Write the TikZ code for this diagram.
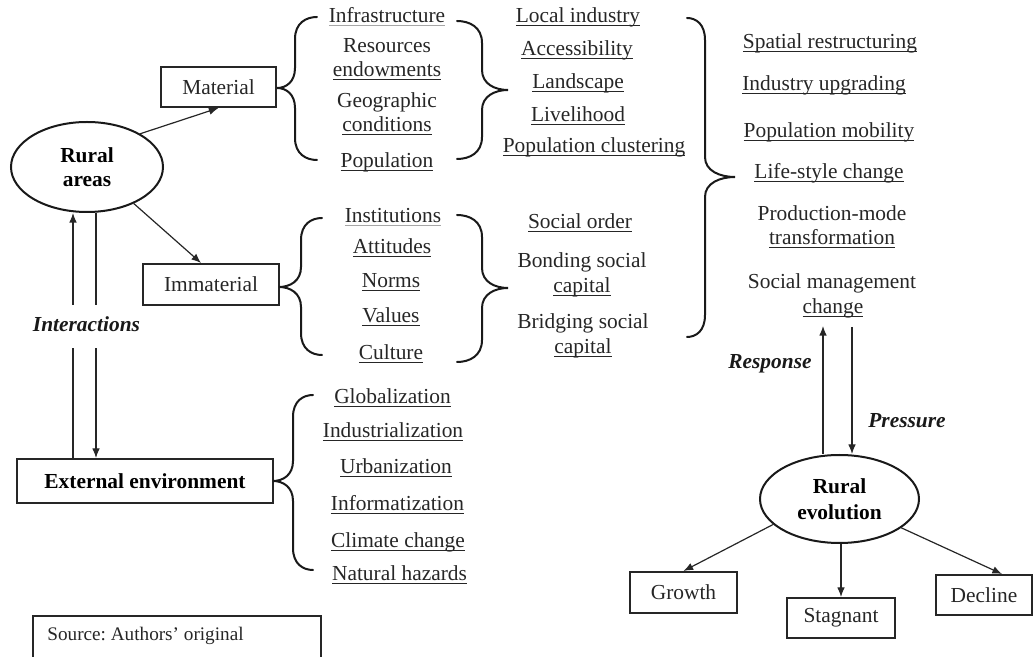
\documentclass[tikz,border=0pt]{standalone}
\usepackage{fontspec}
\setmainfont{Liberation Serif}
\usetikzlibrary{arrows.meta,calc,shapes.geometric}
\frenchspacing

% underline drawn as a zero-size rule so that it does not change the box size
\newcommand\uln[1]{\leavevmode\setbox0\hbox{#1}\rlap{\raisebox{-2.1pt}[0pt][0pt]{\rule{\wd0}{0.5pt}}}\box0}
\newcommand\ulf[1]{\leavevmode\setbox0\hbox{#1}\rlap{\raisebox{-2.1pt}[0pt][0pt]{\color{black!35}\rule{\wd0}{0.5pt}}}\box0}
\newcommand\fs{\fontsize{10.7}{12.5}\selectfont}

% curly brace: end x, stem x, tip x, top y, tip y, bottom y
\newcommand\cbrace[6]{%
  \draw[brcline] (#1,#4) .. controls ({(#1+#2)/2},#4) and (#2,{#4+6}) .. (#2,{#4+22})
     -- (#2,{#5-20}) .. controls (#2,{#5-6}) and ({(#2+#3)/2},#5) .. (#3,#5)
     .. controls ({(#2+#3)/2},#5) and (#2,{#5+6}) .. (#2,{#5+20})
     -- (#2,{#6-22}) .. controls (#2,{#6-6}) and ({(#1+#2)/2},#6) .. (#1,#6);}

\tikzset{
  lbl/.style={font=\fs, text=black!85, inner sep=0pt, text height=7.5pt, text depth=2.2pt},
  bolditalic/.style={lbl, font=\fs\bfseries\itshape, text=black!90},
  boxn/.style={draw=black!85, line width=1pt, inner sep=0pt, font=\fs, text=black!85},
  ell/.style={ellipse, draw=black!90, line width=1pt, inner sep=0pt, align=center,
              font=\fs\bfseries},
  ln/.style={line width=0.6pt, draw=black!85},
  arr/.style={ln, -{Latex[length=4.8pt,width=3.8pt]}},
  brcline/.style={line width=1pt, draw=black!90, line cap=round},
}

\begin{document}
\begin{tikzpicture}[x=0.5pt,y=-0.5pt]
\useasboundingbox (0,0) rectangle (1035,657);

% ---- main nodes ----
\node[ell, minimum width=76pt, minimum height=45pt] (rural) at (87,167) {Rural\\[-0.5pt]areas};
\node[boxn, minimum width=57.5pt, minimum height=20pt] (material) at (218.5,87) {Material};
\node[boxn, minimum width=68pt, minimum height=20.5pt] (immaterial) at (211,284.5) {Immaterial};
\node[boxn, minimum width=128pt, minimum height=22pt, font=\fs\bfseries, text=black] (ext) at (145,481) {External environment};
\node[bolditalic, minimum height=21.5pt] (inter) at (86.5,326.5) {Interactions};

% ---- material factors ----
\node[lbl] (m1) at (387,17) {\ulf{Infrastructure}};
\node[lbl] (m2a) at (387,47) {Resources};
\node[lbl] (m2b) at (387,71) {\uln{endowments}};
\node[lbl] (m3a) at (387,102) {Geographic};
\node[lbl] (m3b) at (387,126) {\uln{conditions}};
\node[lbl] (m4) at (387,162) {\uln{Population}};

% ---- material outcomes ----
\node[lbl] (o1) at (578,17) {\uln{Local industry}};
\node[lbl] (o2) at (577,50) {\uln{Accessibility}};
\node[lbl] (o3) at (578,83) {\uln{Landscape}};
\node[lbl] (o4) at (578,116) {\uln{Livelihood}};
\node[lbl] (o5) at (594,147) {\uln{Population clustering}};

% ---- immaterial factors ----
\node[lbl] (i1) at (393,217) {\ulf{Institutions}};
\node[lbl] (i2) at (392,248) {\uln{Attitudes}};
\node[lbl] (i3) at (391,282) {\uln{Norms}};
\node[lbl] (i4) at (391,317) {\uln{Values}};
\node[lbl] (i5) at (391,354) {\uln{Culture}};

% ---- immaterial outcomes ----
\node[lbl] (s1) at (580,223) {\uln{Social order}};
\node[lbl] (s2a) at (582,262) {Bonding social};
\node[lbl] (s2b) at (582,287) {\uln{capital}};
\node[lbl] (s3a) at (583,323) {Bridging social};
\node[lbl] (s3b) at (583,348) {\uln{capital}};

% ---- rural changes ----
\node[lbl] (r1) at (830,43) {\uln{Spatial restructuring}};
\node[lbl] (r2) at (824,85) {\uln{Industry upgrading}};
\node[lbl] (r3) at (829,132) {\uln{Population mobility}};
\node[lbl] (r4) at (829,173) {\uln{Life-style change}};
\node[lbl] (r5a) at (832,215) {Production-mode};
\node[lbl] (r5b) at (832,239) {\uln{transformation}};
\node[lbl] (r6a) at (832,283) {Social management};
\node[lbl] (r6b) at (833,308) {\uln{change}};

% ---- external forces ----
\node[lbl] (e1) at (392.5,398) {\uln{Globalization}};
\node[lbl] (e2) at (393,432) {\uln{Industrialization}};
\node[lbl] (e3) at (396,468) {\uln{Urbanization}};
\node[lbl] (e4) at (397.5,505) {\uln{Informatization}};
\node[lbl] (e5) at (398,542) {\uln{Climate change}};
\node[lbl] (e6) at (399.5,575) {\uln{Natural hazards}};

% ---- rural evolution ----
\node[ell, minimum width=79.5pt, minimum height=44pt] (evo) at (839.5,499) {Rural\\[0.3pt]evolution};
\node[boxn, minimum width=53.5pt, minimum height=20.5pt] (growth) at (683.5,592.5) {Growth};
\node[boxn, minimum width=54pt, minimum height=20pt] (stag) at (841,618) {Stagnant};
\node[boxn, minimum width=48pt, minimum height=20pt] (decline) at (984,595) {Decline};
\node[bolditalic] (resp) at (770,363) {Response};
\node[bolditalic] (pres) at (907,422) {Pressure};

% ---- source note ----
\node[lbl, font=\fontsize{9.6}{11}\selectfont, anchor=west] (src) at (47,635) {Source: Authors’ original};
\coordinate (srcbl) at (33,657);
\coordinate (srctr) at (321,616);
\draw[line width=0.8pt, draw=black!85] (srcbl) |- (srctr) -- (srctr |- srcbl);

% ---- braces ----
\cbrace{317}{295}{277}{17}{88}{160}
\cbrace{457}{482}{508}{21}{90}{159}
\cbrace{322}{301}{279}{218}{287}{355}
\cbrace{457}{482}{508}{215}{288}{362}
\cbrace{687}{705}{735}{18}{177}{337}
\cbrace{313}{293}{273}{395}{481}{570}

% ---- connectors ----
\draw[arr] (rural.32) -- (material.south);
\draw[arr] (rural.-38) -- ([xshift=-5pt]immaterial.north);

\coordinate (upx) at (73,0);
\coordinate (dnx) at (96,0);
\draw[ln]  (ext.north -| upx) -- (inter.south -| upx);
\draw[arr] (inter.north -| upx) -- (rural.south -| upx);
\draw[ln]  (rural.south -| dnx) -- (inter.north -| dnx);
\draw[arr] (inter.south -| dnx) -- (ext.north -| dnx);

\coordinate (rtop) at (823,326);
\coordinate (ptop) at (852,327);
\draw[arr] (evo.north -| rtop) -- (rtop);
\draw[arr] (ptop) -- (evo.north -| ptop);

\draw[arr] (evo.201) -- (growth.north);
\draw[arr] (stag.north |- evo.south) -- (stag.north);
\draw[arr] (evo.-25) -- ([xshift=9pt]decline.north);
\end{tikzpicture}
\end{document}
